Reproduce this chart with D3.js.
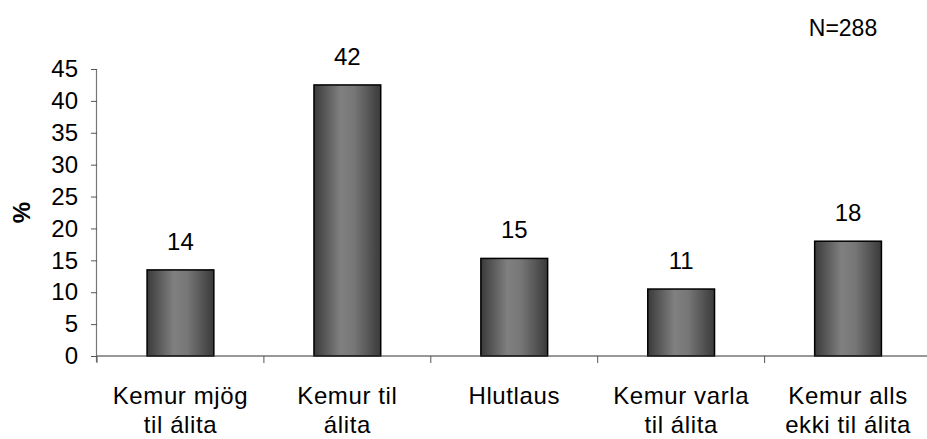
<!DOCTYPE html>
<html><head><meta charset="utf-8">
<script src="https://cdn.jsdelivr.net/npm/d3@7"></script>
<style>body{margin:0;background:#fff}svg{display:block}</style>
</head><body>
<script>
const categories = [["Kemur mjög","til álita"],["Kemur til","álita"],["Hlutlaus"],["Kemur varla","til álita"],["Kemur alls","ekki til álita"]];
const values = [13.5, 42.5, 15.3, 10.5, 18.0];
const valueLabels = ["14","42","15","11","18"];
const yTicks = [0,5,10,15,20,25,30,35,40,45];
const yLabel = "%";
const note = "N=288";

const W = 927, H = 439;
const m = {left: 97, right: -4.5, top: 69, bottom: 83};
const svg = d3.select("body").append("svg").attr("width", W).attr("height", H);
const font = "Liberation Sans, Arial, sans-serif";

const x = d3.scaleBand().domain(d3.range(categories.length)).range([m.left, W - m.right]).paddingInner(0).paddingOuter(0);
const y = d3.scaleLinear().domain([0,45]).range([H - m.bottom, m.top]);

const defs = svg.append("defs");
const g = defs.append("linearGradient").attr("id","barg").attr("x1","0").attr("x2","1").attr("y1","0").attr("y2","0");
g.append("stop").attr("offset","0").attr("stop-color","#3a3a3a");
g.append("stop").attr("offset","0.4").attr("stop-color","#808080");
g.append("stop").attr("offset","0.6").attr("stop-color","#777");
g.append("stop").attr("offset","1").attr("stop-color","#3a3a3a");

const bw = x.bandwidth()*0.4;
svg.selectAll("rect.bar").data(values).join("rect").attr("class","bar")
  .attr("x",(d,i)=>x(i)+x.bandwidth()/2-bw/2)
  .attr("y",d=>y(d))
  .attr("width",bw)
  .attr("height",d=>y(0)-y(d))
  .attr("fill","url(#barg)")
  .attr("stroke","#000").attr("stroke-width",1.5);

svg.selectAll("text.vl").data(values).join("text").attr("class","vl")
  .attr("x",(d,i)=>x(i)+x.bandwidth()/2)
  .attr("y",d=>y(d)-20)
  .attr("text-anchor","middle")
  .attr("font-family",font).attr("font-size",24)
  .text((d,i)=>valueLabels[i]);

// y axis
const ya = svg.append("g").attr("transform",`translate(${m.left},0)`)
  .call(d3.axisLeft(y).tickValues(yTicks).tickSize(6).tickPadding(13));
ya.select(".domain").attr("stroke","#777").attr("stroke-width",1.2).attr("d",`M-0.5,${y(45)}V${y(0)+6}`);
ya.selectAll(".tick line").attr("stroke","#555");
ya.selectAll(".tick text").attr("font-family",font).attr("font-size",24).attr("fill","#000");

// x axis
const xa = svg.append("g").attr("transform",`translate(0,${y(0)})`);
xa.append("line").attr("x1",m.left).attr("x2",W).attr("y1",0).attr("y2",0).attr("stroke","#333").attr("stroke-width",1.2);
const bounds = d3.range(categories.length+1).map(i=> i<categories.length ? x(i) : x(i-1)+x.bandwidth());
xa.selectAll("line.t").data(bounds).join("line").attr("class","t")
  .attr("x1",d=>d).attr("x2",d=>d).attr("y1",0).attr("y2",7).attr("stroke","#555");
const cl = xa.selectAll("text.cl").data(categories).join("text").attr("class","cl")
  .attr("text-anchor","middle").attr("font-family",font).attr("font-size",24).attr("letter-spacing",0.6)
  .attr("transform",(d,i)=>`translate(${x(i)+x.bandwidth()/2},48)`);
cl.selectAll("tspan").data(d=>d).join("tspan").attr("x",0).attr("dy",(d,i)=>i?29:0).text(d=>d);

svg.append("text").attr("transform",`translate(30,${(y(0)+y(45))/2}) rotate(-90)`)
  .attr("text-anchor","middle").attr("font-family",font).attr("font-size",24).attr("font-weight","bold").text(yLabel);

svg.append("text").attr("x",843).attr("y",36).attr("text-anchor","middle")
  .attr("font-family",font).attr("font-size",23).text(note);
</script>
</body></html>
